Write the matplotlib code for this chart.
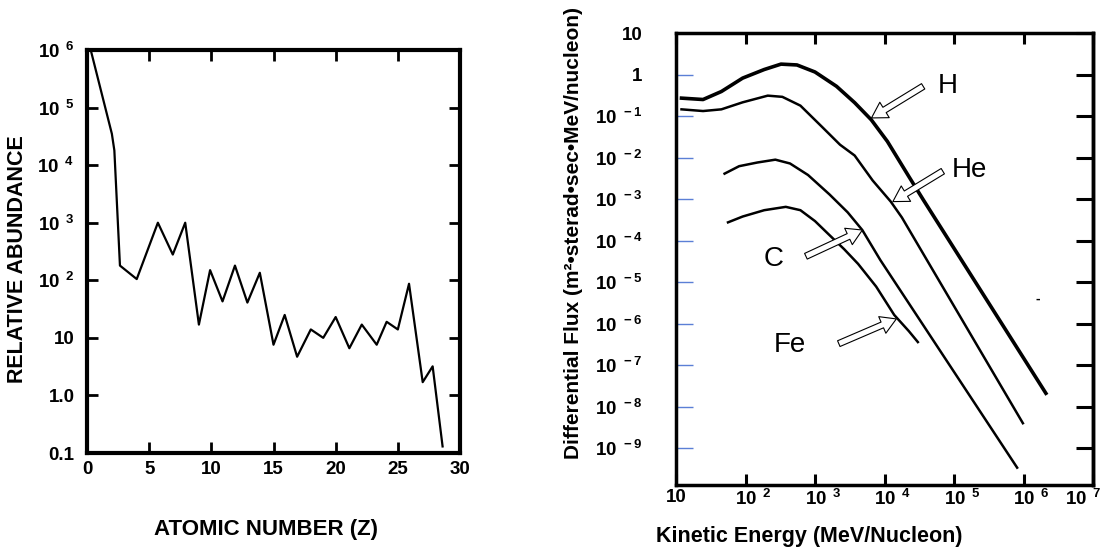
import matplotlib
matplotlib.use("Agg")
import matplotlib.pyplot as plt
from matplotlib.ticker import NullLocator
from matplotlib.transforms import ScaledTranslation

plt.rcParams["font.family"] = ["Liberation Sans", "DejaVu Sans"]
plt.rcParams["font.weight"] = "bold"
plt.rcParams["axes.labelweight"] = "bold"
plt.rcParams["mathtext.fontset"] = "custom"
plt.rcParams["mathtext.rm"] = "Liberation Sans:bold"
plt.rcParams["mathtext.bf"] = "Liberation Sans:bold"
plt.rcParams["mathtext.default"] = "rm"

# left panel: relative abundance vs atomic number
atomic_number = [0.3, 2.0, 2.2, 2.65, 4.0, 5.7, 6.9, 7.9, 9.0, 9.9, 10.9, 11.9,
                 12.9, 13.9, 15.0, 15.9, 16.9, 18.0, 19.0, 20.0, 21.1, 22.1,
                 23.3, 24.1, 25.0, 25.9, 27.0, 27.8, 28.6]
abundance = [1e6, 3.5e4, 1.8e4, 180, 105, 1000, 280, 1000, 17, 150, 43, 180,
             41, 135, 7.6, 25, 4.7, 14, 10, 23, 6.6, 17,
             7.6, 19, 14, 87, 1.7, 3.2, 0.13]
z_ticks = [0, 5, 10, 15, 20, 25, 30]
abund_ticks = [0.1, 1, 10, 1e2, 1e3, 1e4, 1e5, 1e6]
abund_labels = ["0.1", "1.0", "10", r"10$^{\ \,2}$", r"10$^{\ \,3}$",
                r"10$^{\ \,4}$", r"10$^{\ \,5}$", r"10$^{\ \,6}$"]

# right panel: differential flux vs kinetic energy
h_energy = [12, 24.5, 45, 91, 186, 324, 550, 1000, 2040, 3720, 6460, 1.1e4,
            2.24e4, 3.63e4, 2.1e6]
h_flux = [0.27, 0.25, 0.39, 0.82, 1.32, 1.78, 1.7, 1.15, 0.52, 0.21, 0.081,
          0.0245, 3.5e-3, 9.5e-4, 2.1e-8]
he_energy = [12, 24.5, 45, 91, 209, 339, 617, 1260, 2290, 3720, 6760, 1.23e4,
             1.78e4, 9.8e5]
he_flux = [0.145, 0.132, 0.145, 0.214, 0.31, 0.29, 0.178, 0.055, 0.0204,
           0.0112, 2.8e-3, 8.7e-4, 3.6e-4, 4e-9]
c_energy = [50, 81, 148, 269, 437, 794, 1620, 2950, 4790, 8710, 8.1e5]
c_flux = [4.1e-3, 6.2e-3, 7.6e-3, 8.9e-3, 7.2e-3, 3.8e-3, 1.29e-3, 4.8e-4,
          1.8e-4, 3.4e-5, 3.4e-10]
fe_energy = [56, 91, 186, 380, 617, 1000, 1620, 2630, 4170, 7590, 1.38e4,
             2.24e4, 3.02e4]
fe_flux = [2.75e-4, 3.8e-4, 5.4e-4, 6.5e-4, 5.4e-4, 2.95e-4, 1.35e-4, 6.2e-5,
           2.75e-5, 7.8e-6, 1.62e-6, 6.6e-7, 3.6e-7]
energy_ticks = [10, 1e2, 1e3, 1e4, 1e5, 1e6, 1e7]
energy_labels = ["10", r"10$^{\ \,2}$", r"10$^{\ \,3}$", r"10$^{\ \,4}$",
                 r"10$^{\ \,5}$", r"10$^{\ \,6}$", r"10$^{\ \,7}$"]
flux_ticks = [10, 1, 1e-1, 1e-2, 1e-3, 1e-4, 1e-5, 1e-6, 1e-7, 1e-8, 1e-9]
flux_labels = ["10", "1"] + [r"10$^{\ -%d}$" % k for k in range(1, 10)]

# species label, label position, arrow tail, arrow tip
species = ["H", "He", "C", "Fe"]
label_pos = [(5.9e4, 0.52), (9.3e4, 5.1e-3), (250, 3.7e-5), (440, 3e-7)]
arrow_tail = [(3.6e4, 0.52), (6.9e4, 4.7e-3), (740, 4.2e-5), (2200, 3.3e-7)]
arrow_tip = [(6500, 0.09), (1.32e4, 8.7e-4), (4800, 1.8e-4), (1.48e4, 1.3e-6)]

fig = plt.figure(figsize=(11.07, 5.53), dpi=100)

# ---- left ----
ax = fig.add_axes([87 / 1107, 1 - 453 / 553, 373 / 1107, 403 / 553])
ax.plot(atomic_number, abundance, "k-", lw=1.6)
ax.set_yscale("log")
ax.set_xlim(0, 30)
ax.set_ylim(0.1, 1e6)
ax.set_xticks(z_ticks)
ax.set_yticks(abund_ticks, abund_labels)
ax.yaxis.set_minor_locator(NullLocator())
ax.tick_params(direction="in", length=8, width=2, labelsize=13.5,
               top=True, right=True, pad=6)
ax.tick_params(axis="y", pad=9)
for s in ax.spines.values():
    s.set_linewidth(3)
ax.set_xlabel("ATOMIC NUMBER (Z)", fontsize=16)
ax.set_ylabel("RELATIVE ABUNDANCE", fontsize=15.5)
ax.xaxis.set_label_coords(0.48, -0.165)
ax.yaxis.set_label_coords(-0.158, 0.48)

# ---- right ----
ax = fig.add_axes([676 / 1107, 1 - 485 / 553, 417 / 1107, 452 / 553])
ax.plot(h_energy, h_flux, "k-", lw=2.6)
ax.plot(he_energy, he_flux, "k-", lw=1.8)
ax.plot(c_energy, c_flux, "k-", lw=1.8)
ax.plot(fe_energy, fe_flux, "k-", lw=1.8)
ax.set_xscale("log")
ax.set_yscale("log")
ax.set_xlim(10, 1e7)
ax.set_ylim(1.3e-10, 10)
ax.set_xticks(energy_ticks, energy_labels)
ax.set_yticks(flux_ticks, flux_labels)
ax.xaxis.set_minor_locator(NullLocator())
ax.yaxis.set_minor_locator(NullLocator())
ax.tick_params(axis="x", direction="in", length=8, width=2.2, labelsize=13.5,
               top=True, pad=3)
ax.tick_params(axis="y", direction="in", length=12, width=1, color="#5b7fd6",
               labelsize=13.5, pad=24)
# the scanned labels sit a little right of their ticks; last one kept inside
xlabels = ax.get_xticklabels()
for lab in xlabels[1:-1]:
    lab.set_transform(lab.get_transform() + ScaledTranslation(8 / 100, 0, fig.dpi_scale_trans))
xlabels[-1].set_horizontalalignment("right")
xlabels[-1].set_transform(xlabels[-1].get_transform() + ScaledTranslation(9 / 100, 0, fig.dpi_scale_trans))
sec = ax.secondary_yaxis("right")
sec.set_yticks(flux_ticks)
sec.yaxis.set_minor_locator(NullLocator())
sec.tick_params(direction="in", length=12, width=2.2, labelright=False)
sec.spines["right"].set_linewidth(2.5)
for s in ax.spines.values():
    s.set_linewidth(2.5)
ax.set_xlabel("Kinetic Energy (MeV/Nucleon)", fontsize=15.5)
ax.set_ylabel("Differential Flux (m²•sterad•sec•MeV/nucleon)", fontsize=15)
ax.xaxis.set_label_coords(0.32, -0.09)
ax.yaxis.set_label_coords(-0.223, 0.557)

for name, lp, tail, tip in zip(species, label_pos, arrow_tail, arrow_tip):
    ha = "left" if name in ("H", "He") else "center"
    ax.text(lp[0], lp[1], name, fontsize=20, fontweight="normal",
            ha=ha, va="center")
    ax.annotate("", xy=tip, xytext=tail,
                arrowprops=dict(arrowstyle="simple,head_length=1.1,head_width=1.3,tail_width=0.45",
                                fc="white", ec="black", lw=0.8,
                                shrinkA=0, shrinkB=0))
ax.text(1.6e6, 4e-6, "-", fontsize=10, ha="center", va="center")

fig.savefig("out.png", dpi=100)
